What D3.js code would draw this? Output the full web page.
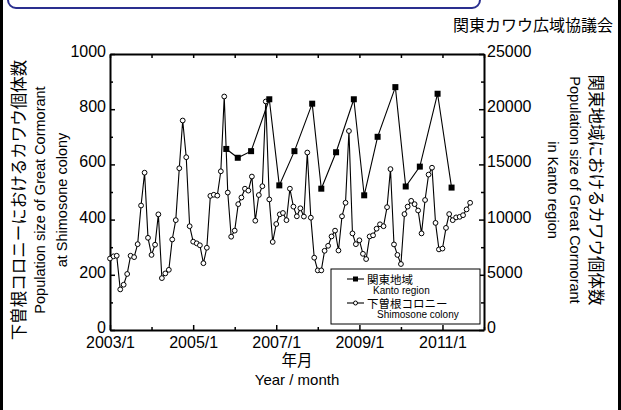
<!DOCTYPE html>
<html>
<head>
<meta charset="utf-8">
<script src="https://cdn.jsdelivr.net/npm/d3@7"></script>
<style>
  body { margin: 0; background: #fff; }
  svg { display: block; }
  .en { font-family: "Liberation Sans", Arial, sans-serif; }
  .jp { font-family: "Noto Sans CJK JP", sans-serif; }
</style>
</head>
<body>
<svg id="chart" width="621" height="410"></svg>
<script>
// Monthly counts at the Shimosone colony, starting 2003/1
const shimosoneStart = "2003-01-01";
const shimosoneCounts = [
  259, 267, 269, 147, 164, 203, 269, 264, 311, 451, 570, 334,
  272, 309, 419, 188, 205, 218, 328, 398, 586, 759, 626, 376,
  320, 314, 307, 242, 298, 486, 490, 487, 575, 846, 498, 338,
  360, 456, 480, 512, 505, 556, 396, 489, 521, 828, 473, 319,
  384, 419, 424, 398, 512, 447, 412, 441, 411, 643, 407, 262,
  216, 216, 287, 305, 339, 360, 288, 412, 461, 721, 350, 311,
  325, 276, 257, 339, 343, 367, 383, 376, 445, 583, 310, 272,
  239, 420, 447, 468, 456, 433, 350, 471, 563, 588, 388, 292,
  295, 370, 420, 398, 408, 410, 416, 437, 461
];

// Kanto-wide survey dates and counts
const kantoDates = [
  "2005-10-19", "2006-01-28", "2006-05-25", "2006-11-01",
  "2007-01-28", "2007-06-10", "2007-11-13", "2008-02-01",
  "2008-06-10", "2008-11-13", "2009-02-12", "2009-06-10",
  "2009-11-13", "2010-02-12", "2010-06-16", "2010-11-19",
  "2011-03-22"
];
const kantoCounts = [
  16400, 15600, 16200, 20900,
  13100, 16200, 20500, 12800,
  16100, 20900, 12200, 17500,
  22000, 13000, 14800, 21400,
  12900
];

// Axis ticks and labels
const xMajorTicks = ["2003-01-01", "2005-01-01", "2007-01-01", "2009-01-01", "2011-01-01"];
const xTickLabels = ["2003/1", "2005/1", "2007/1", "2009/1", "2011/1"];
const xMinorTicks = ["2004-01-01", "2006-01-01", "2008-01-01", "2010-01-01", "2012-01-01"];
const xDomain = ["2003-01-01", "2012-01-01"];
const leftTicks = [0, 200, 400, 600, 800, 1000];
const leftMinor = [100, 300, 500, 700, 900];
const rightTicks = [0, 5000, 10000, 15000, 20000, 25000];
const rightMinor = [2500, 7500, 12500, 17500, 22500];

const legendJp = ["関東地域", "下曽根コロニー"];
const legendEn = ["Kanto region", "Shimosone colony"];

const parse = d3.timeParse("%Y-%m-%d");
const svg = d3.select("#chart");

const plot = { left: 110, right: 484, top: 54, bottom: 330 };

const x = d3.scaleTime()
  .domain(xDomain.map(parse))
  .range([plot.left, plot.right]);
const yL = d3.scaleLinear().domain([0, 1000]).range([plot.bottom, plot.top]);
const yR = d3.scaleLinear().domain([0, 25000]).range([plot.bottom, plot.top]);

// Page frame: side rules and the rounded header box
svg.append("rect").attr("x", 0).attr("y", 0).attr("width", 3).attr("height", 410).attr("fill", "#000");
svg.append("rect").attr("x", 618).attr("y", 0).attr("width", 3).attr("height", 410).attr("fill", "#000");
svg.append("rect")
  .attr("x", 8).attr("y", -30).attr("width", 472).attr("height", 38)
  .attr("rx", 8).attr("fill", "none")
  .attr("stroke", "#2a2f8f").attr("stroke-width", 2);

svg.append("text").attr("class", "jp")
  .attr("x", 613).attr("y", 31).attr("text-anchor", "end")
  .attr("font-size", 16).text("関東カワウ広域協議会");

const plain = d3.format("d");

function styleAxis(g, labelSize) {
  g.select(".domain").attr("stroke", "#000").attr("stroke-width", 2);
  g.selectAll(".tick line").attr("stroke", "#000").attr("stroke-width", 1.5);
  g.selectAll(".tick text")
    .attr("class", "en")
    .attr("font-size", labelSize)
    .attr("fill", "#000");
}
function minorTicks(g) {
  g.select(".domain").remove();
  g.selectAll("line").attr("stroke", "#000").attr("stroke-width", 1.5);
}

// Bottom axis
const gx = svg.append("g").attr("transform", `translate(0,${plot.bottom})`)
  .call(d3.axisBottom(x).tickValues(xMajorTicks.map(parse))
    .tickFormat((d, i) => xTickLabels[i]).tickSize(-5).tickSizeOuter(0).tickPadding(7));
styleAxis(gx, 16);
svg.append("g").attr("transform", `translate(0,${plot.bottom})`)
  .call(d3.axisBottom(x).tickValues(xMinorTicks.map(parse)).tickFormat("").tickSize(-3).tickSizeOuter(0))
  .call(minorTicks);

// Top axis (ticks only)
const gt = svg.append("g").attr("transform", `translate(0,${plot.top})`)
  .call(d3.axisTop(x).tickValues(xMajorTicks.concat(xMinorTicks).map(parse))
    .tickFormat("").tickSize(-4).tickSizeOuter(0));
styleAxis(gt, 0);

// Left axis
const gl = svg.append("g").attr("transform", `translate(${plot.left},0)`)
  .call(d3.axisLeft(yL).tickValues(leftTicks).tickFormat(plain)
    .tickSize(-5).tickSizeOuter(0).tickPadding(4));
styleAxis(gl, 16);
gl.selectAll(".tick text").attr("dy", "0.15em");
svg.append("g").attr("transform", `translate(${plot.left},0)`)
  .call(d3.axisLeft(yL).tickValues(leftMinor).tickFormat("").tickSize(-3).tickSizeOuter(0))
  .call(minorTicks);

// Right axis
const gr = svg.append("g").attr("transform", `translate(${plot.right},0)`)
  .call(d3.axisRight(yR).tickValues(rightTicks).tickFormat(plain)
    .tickSize(-5).tickSizeOuter(0).tickPadding(3));
styleAxis(gr, 16);
gr.selectAll(".tick text").attr("dy", "0.15em");
svg.append("g").attr("transform", `translate(${plot.right},0)`)
  .call(d3.axisRight(yR).tickValues(rightMinor).tickFormat("").tickSize(-3).tickSizeOuter(0))
  .call(minorTicks);

// Series
const shimoStart = parse(shimosoneStart);
const shimo = shimosoneCounts.map((v, i) => ({ date: d3.timeMonth.offset(shimoStart, i), value: v }));
const kanto = kantoDates.map((d, i) => ({ date: parse(d), value: kantoCounts[i] }));

svg.append("path").datum(shimo)
  .attr("fill", "none").attr("stroke", "#000").attr("stroke-width", 1.1)
  .attr("d", d3.line().x(d => x(d.date)).y(d => yL(d.value)));

svg.append("path").datum(kanto)
  .attr("fill", "none").attr("stroke", "#000").attr("stroke-width", 1.1)
  .attr("d", d3.line().x(d => x(d.date)).y(d => yR(d.value)));

svg.append("g").selectAll("circle").data(shimo).join("circle")
  .attr("cx", d => x(d.date)).attr("cy", d => yL(d.value)).attr("r", 2.4)
  .attr("fill", "#fff").attr("stroke", "#000").attr("stroke-width", 1);

svg.append("g").selectAll("rect").data(kanto).join("rect")
  .attr("x", d => x(d.date) - 3).attr("y", d => yR(d.value) - 3)
  .attr("width", 6).attr("height", 6).attr("fill", "#000");

// Legend
const lg = svg.append("g");
lg.append("rect").attr("x", 331).attr("y", 269).attr("width", 149).attr("height", 55)
  .attr("fill", "#fff").attr("stroke", "#000").attr("stroke-width", 1);
const rows = [
  { y: 279, marker: "square", enX: 373 },
  { y: 303, marker: "circle", enX: 377 }
];
rows.forEach((r, i) => {
  lg.append("line").attr("x1", 347).attr("x2", 364).attr("y1", r.y).attr("y2", r.y)
    .attr("stroke", "#000").attr("stroke-width", 1.1);
  if (r.marker === "square") {
    lg.append("rect").attr("x", 353).attr("y", r.y - 2.5).attr("width", 5).attr("height", 5).attr("fill", "#000");
  } else {
    lg.append("circle").attr("cx", 355.5).attr("cy", r.y).attr("r", 2)
      .attr("fill", "#fff").attr("stroke", "#000").attr("stroke-width", 1);
  }
  lg.append("text").attr("class", "jp").attr("x", 367).attr("y", r.y + 4.5)
    .attr("font-size", 11.5).text(legendJp[i]);
  lg.append("text").attr("class", "en").attr("x", r.enX).attr("y", r.y + 15)
    .attr("font-size", 10).text(legendEn[i]);
});

// Axis titles
svg.append("text").attr("class", "jp").attr("text-anchor", "middle")
  .attr("x", 297).attr("y", 366).attr("font-size", 15.5).text("年月");
svg.append("text").attr("class", "en").attr("text-anchor", "middle")
  .attr("x", 297).attr("y", 385).attr("font-size", 15).text("Year / month");

const leftTitles = [
  { cls: "jp", x: 18, size: 16.5, text: "下曽根コロニーにおけるカワウ個体数" },
  { cls: "en", x: 40, size: 14.5, text: "Population size of Great Cormorant" },
  { cls: "en", x: 62, size: 14.5, text: "at Shimosone colony" }
];
leftTitles.forEach(t => {
  svg.append("text").attr("class", t.cls).attr("text-anchor", "middle")
    .attr("dominant-baseline", "central")
    .attr("transform", `translate(${t.x},200) rotate(-90)`)
    .attr("font-size", t.size).text(t.text);
});

const rightTitles = [
  { cls: "jp", x: 597, size: 16.5, text: "関東地域におけるカワウ個体数" },
  { cls: "en", x: 575, size: 14.5, text: "Population size of Great Cormorant" },
  { cls: "en", x: 553, size: 14.5, text: "in Kanto region" }
];
rightTitles.forEach(t => {
  svg.append("text").attr("class", t.cls).attr("text-anchor", "middle")
    .attr("dominant-baseline", "central")
    .attr("transform", `translate(${t.x},190) rotate(90)`)
    .attr("font-size", t.size).text(t.text);
});
</script>
</body>
</html>
